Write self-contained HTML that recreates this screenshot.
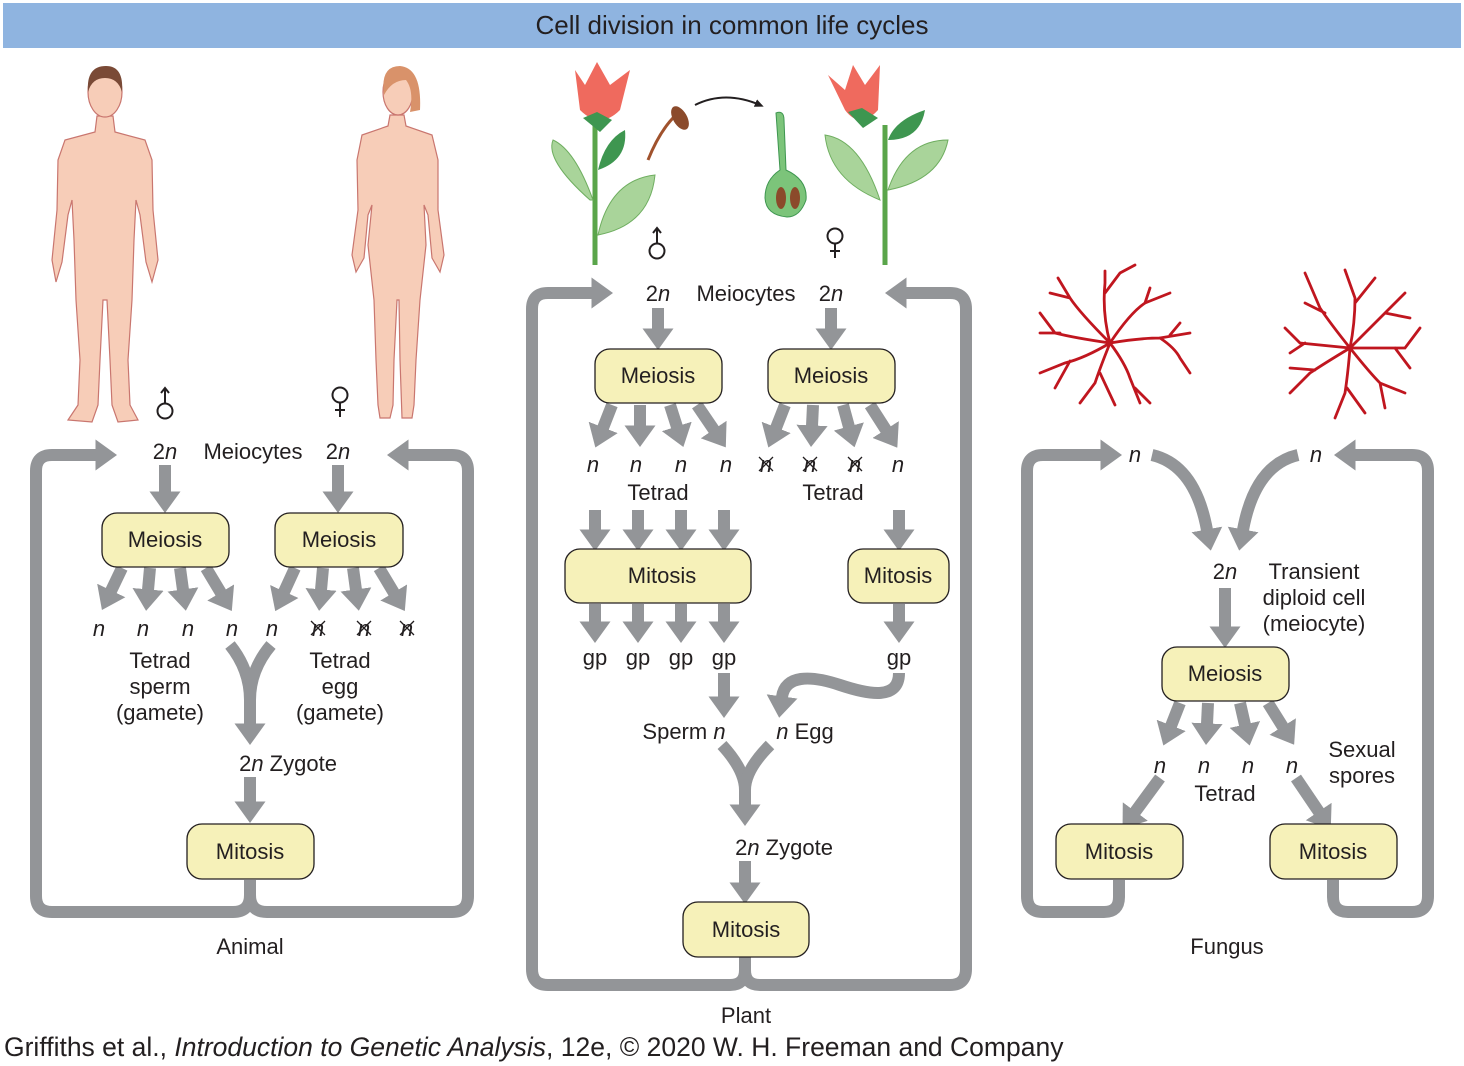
<!DOCTYPE html>
<html><head><meta charset="utf-8"><style>
body{margin:0;background:#fff}
svg{display:block}
text{font-family:"Liberation Sans",sans-serif;fill:#231f20}
</style></head><body>
<svg width="1464" height="1066" viewBox="0 0 1464 1066" xmlns="http://www.w3.org/2000/svg">
<defs>
<marker id="a" viewBox="0 -1.3 1.8 2.6" refX="0.05" refY="0" markerWidth="1.8" markerHeight="2.6" orient="auto" markerUnits="strokeWidth"><path d="M0,-1.3 L1.8,0 L0,1.3 z" fill="#939598"/></marker>
<marker id="b" viewBox="0 -5 10 10" refX="5" refY="0" markerWidth="10" markerHeight="10" orient="auto" markerUnits="userSpaceOnUse"><path d="M0,-4 L9,0 L0,4 z" fill="#231f20"/></marker>
<g id="male" fill="none" stroke="#231f20" stroke-width="2"><circle cx="0" cy="6" r="7.5"/><path d="M0,-1.5 L0,-17 M-4,-12 L0,-17 L4,-12"/></g>
<g id="female" fill="none" stroke="#231f20" stroke-width="2"><circle cx="0" cy="-6" r="7.5"/><path d="M0,1.5 L0,16 M-5,9 L5,9"/></g>
</defs>
<rect x="3" y="3" width="1458" height="45" fill="#8fb4e0"/>
<text x="732" y="34" font-size="26" text-anchor="middle">Cell division in common life cycles</text>

<!-- humans -->
<g fill="#f7cdb8" stroke="#c9766f" stroke-width="1.2">
<path d="M97,116 L113,116 L115,132 L145,140 L152,160 L153,210 L158,260 L152,282 L146,262 L140,215 L136,200 L134,240 L132,300 L128,360 L130,405 L138,420 L118,422 L112,405 L110,360 L107,300 L103,300 L100,360 L98,405 L92,422 L68,420 L78,405 L80,360 L76,300 L74,240 L72,200 L68,215 L62,262 L56,282 L52,260 L57,210 L58,160 L65,140 L95,132 Z"/>
<ellipse cx="105" cy="92" rx="17" ry="25"/>
<path d="M390,115 L404,115 L406,126 L432,135 L438,160 L438,210 L444,255 L440,272 L432,258 L428,215 L424,205 L426,245 L420,300 L416,360 L414,405 L412,418 L402,418 L400,360 L399,300 L397,300 L394,360 L393,405 L390,418 L380,418 L378,405 L376,360 L374,300 L368,245 L372,205 L368,215 L364,258 L356,272 L352,255 L358,210 L357,160 L362,135 L388,126 Z"/>
<ellipse cx="398" cy="92" rx="15" ry="23"/>
</g>
<path d="M88,92 Q86,66 106,66 Q124,66 122,92 Q118,78 105,78 Q92,78 88,92Z" fill="#7a4a36"/>
<path d="M384,95 Q380,66 400,66 Q422,68 420,110 L410,112 Q414,90 406,80 Q392,80 384,95Z" fill="#d9926a"/>
<use href="#male" x="165" y="405"/>
<use href="#female" x="340" y="401"/>

<!-- plants -->
<g>
<path d="M595,125 L595,265" stroke="#5aa54a" stroke-width="5" fill="none"/>
<path d="M885,125 L885,265" stroke="#5aa54a" stroke-width="5" fill="none"/>
<path d="M590,200 Q545,160 553,140 Q575,150 593,200Z" fill="#a9d49a" stroke="#6fae60"/>
<path d="M598,235 Q610,180 655,175 Q650,225 598,235Z" fill="#a9d49a" stroke="#6fae60"/>
<path d="M598,170 Q605,140 625,130 Q628,160 598,170Z" fill="#3e9650"/>
<path d="M880,200 Q830,180 825,135 Q860,140 880,200Z" fill="#a9d49a" stroke="#6fae60"/>
<path d="M888,190 Q905,140 948,140 Q940,180 888,190Z" fill="#a9d49a" stroke="#6fae60"/>
<path d="M888,140 Q895,120 925,110 Q920,140 888,140Z" fill="#3e9650"/>
<path d="M575,70 L585,85 L597,62 L610,85 L630,70 L620,110 Q600,130 580,110Z" fill="#ef6a5e"/>
<path d="M828,75 L845,90 L853,65 L865,85 L880,65 L878,110 Q860,130 845,110Z" fill="#ef6a5e"/>
<path d="M583,118 L597,112 L612,120 L600,132Z" fill="#3e9650"/>
<path d="M848,112 L862,108 L878,118 L863,128Z" fill="#3e9650"/>
<path d="M648,160 Q660,130 676,115" stroke="#a0522d" stroke-width="3" fill="none"/>
<ellipse cx="680" cy="118" rx="7" ry="13" transform="rotate(-30 680 118)" fill="#8b4a2b"/>
<path d="M695,105 Q725,90 760,105" stroke="#231f20" stroke-width="2" fill="none" marker-end="url(#b)"/>
<path d="M776,113 Q784,110 784,120 L786,170 Q808,180 806,200 Q800,217 787,217 Q766,215 765,198 Q765,180 780,170 Z" fill="#7cc47a" stroke="#3e9650"/>
<ellipse cx="781" cy="198" rx="5" ry="11" fill="#8b4a2b"/>
<ellipse cx="795" cy="198" rx="5" ry="11" fill="#8b4a2b"/>
</g>
<use href="#male" x="657" y="245"/>
<use href="#female" x="835" y="242"/>

<!-- fungi -->
<g stroke="#c0161f" stroke-width="2.8" fill="none" stroke-linecap="round">
<g transform="translate(1110,343)">
<path d="M0,0 Q-30,-30 -40,-45 L-52,-65 M-40,-45 L-60,-50 M0,0 Q-8,-30 -5,-60 L-5,-72 M-5,-50 L10,-70 L25,-78 M0,0 Q20,-30 35,-40 L60,-50 M35,-40 L40,-55 M0,0 Q30,-5 50,-5 L80,-10 M50,-5 Q65,5 70,15 L80,30 M60,-8 L70,-20 M0,0 Q15,20 20,35 L30,60 M25,45 L40,60 M0,0 Q-10,25 -15,40 L-30,60 M-10,30 L5,62 M0,0 Q-25,15 -45,20 L-70,30 M-40,18 L-55,45 M0,0 Q-35,-5 -55,-10 L-70,-30 M-50,-10 L-70,-10"/>
</g>
<g transform="translate(1350,348)">
<path d="M0,0 Q-20,-25 -30,-40 L-45,-75 M-25,-35 L-45,-45 M0,0 Q5,-25 5,-50 L-5,-78 M5,-45 L25,-70 M0,0 Q20,-20 35,-35 L55,-55 M35,-35 L60,-30 M0,0 L55,0 L70,-20 M45,0 L60,20 M0,0 Q20,25 30,35 L55,45 M30,35 L35,60 M0,0 Q-2,25 -5,45 L-15,70 M-3,40 L15,65 M0,0 Q-25,15 -40,25 L-60,45 M-35,22 L-60,20 M0,0 Q-30,-3 -50,-5 L-65,-20 M-45,-5 L-60,5"/>
</g>
</g>

<!-- gray connectors -->
<g stroke="#939598" stroke-width="12" fill="none">
<path d="M250,880 L250,895 Q250,912 233,912 L52,912 Q36,912 36,896 L36,471 Q36,455 52,455 L96,455" marker-end="url(#a)"/>
<path d="M250,880 L250,895 Q250,912 267,912 L452,912 Q468,912 468,896 L468,471 Q468,455 452,455 L408,455" marker-end="url(#a)"/>
<path d="M165,465 L165,492" marker-end="url(#a)"/>
<path d="M338,465 L338,492" marker-end="url(#a)"/>
<path d="M122,568 L111,591" marker-end="url(#a)"/>
<path d="M150,568 L148,590" marker-end="url(#a)"/>
<path d="M180,568 L183,590" marker-end="url(#a)"/>
<path d="M206,568 L221,593" marker-end="url(#a)"/>
<path d="M295,568 L284,592" marker-end="url(#a)"/>
<path d="M323,568 L321,590" marker-end="url(#a)"/>
<path d="M353,568 L356,590" marker-end="url(#a)"/>
<path d="M379,568 L394,593" marker-end="url(#a)"/>
<path d="M230,645 Q250,670 250,700 L250,724" marker-end="url(#a)"/>
<path d="M271,645 Q250,670 250,700"/>
<path d="M250,777 L250,802" marker-end="url(#a)"/>
<path d="M745,957 L745,970 Q745,985 730,985 L548,985 Q532,985 532,969 L532,309 Q532,293 548,293 L592,293" marker-end="url(#a)"/>
<path d="M745,957 L745,970 Q745,985 760,985 L950,985 Q966,985 966,969 L966,309 Q966,293 950,293 L906,293" marker-end="url(#a)"/>
<path d="M658,308 L658,329" marker-end="url(#a)"/>
<path d="M831,308 L831,329" marker-end="url(#a)"/>
<path d="M612,405 L603,428" marker-end="url(#a)"/>
<path d="M640,405 L640,426" marker-end="url(#a)"/>
<path d="M670,405 L677,427" marker-end="url(#a)"/>
<path d="M697,405 L714,430" marker-end="url(#a)"/>
<path d="M785,405 L776,428" marker-end="url(#a)"/>
<path d="M813,405 L812,426" marker-end="url(#a)"/>
<path d="M843,405 L849,427" marker-end="url(#a)"/>
<path d="M870,405 L886,430" marker-end="url(#a)"/>
<path d="M595,510 L595,530" marker-end="url(#a)"/>
<path d="M638,510 L638,530" marker-end="url(#a)"/>
<path d="M681,510 L681,530" marker-end="url(#a)"/>
<path d="M724,510 L724,530" marker-end="url(#a)"/>
<path d="M899,510 L899,530" marker-end="url(#a)"/>
<path d="M595,604 L595,622" marker-end="url(#a)"/>
<path d="M638,604 L638,622" marker-end="url(#a)"/>
<path d="M681,604 L681,622" marker-end="url(#a)"/>
<path d="M724,604 L724,622" marker-end="url(#a)"/>
<path d="M899,604 L899,622" marker-end="url(#a)"/>
<path d="M724,673 L724,697" marker-end="url(#a)"/>
<path d="M899,673 C899,700 870,695 840,685 C810,675 785,675 782,697" marker-end="url(#a)"/>
<path d="M722,745 Q745,770 745,790 L745,805" marker-end="url(#a)"/>
<path d="M770,745 Q745,770 745,790"/>
<path d="M745,861 L745,883" marker-end="url(#a)"/>
<path d="M1119,880 L1119,897 Q1119,912 1104,912 L1043,912 Q1027,912 1027,896 L1027,471 Q1027,455 1043,455 L1101,455" marker-end="url(#a)"/>
<path d="M1333,880 L1333,897 Q1333,912 1348,912 L1412,912 Q1428,912 1428,896 L1428,471 Q1428,455 1412,455 L1355,455" marker-end="url(#a)"/>
<path d="M1152,455 Q1195,465 1207,530" marker-end="url(#a)"/>
<path d="M1298,455 Q1255,465 1243,530" marker-end="url(#a)"/>
<path d="M1225,588 L1225,627" marker-end="url(#a)"/>
<path d="M1180,703 L1171,726" marker-end="url(#a)"/>
<path d="M1208,703 L1207,724" marker-end="url(#a)"/>
<path d="M1240,703 L1245,725" marker-end="url(#a)"/>
<path d="M1268,703 L1283,727" marker-end="url(#a)"/>
<path d="M1160,778 L1135,812" marker-end="url(#a)"/>
<path d="M1296,778 L1319,812" marker-end="url(#a)"/>
</g>

<g fill="#f6f1b9" stroke="#231f20" stroke-width="1.3">
<rect x="102" y="513" width="127" height="54" rx="15"/>
<rect x="275" y="513" width="128" height="54" rx="15"/>
<rect x="187" y="824" width="127" height="55" rx="15"/>
<rect x="595" y="349" width="127" height="54" rx="15"/>
<rect x="768" y="349" width="127" height="54" rx="15"/>
<rect x="565" y="549" width="186" height="54" rx="15"/>
<rect x="848" y="549" width="101" height="54" rx="15"/>
<rect x="683" y="902" width="126" height="55" rx="15"/>
<rect x="1162" y="647" width="127" height="54" rx="15"/>
<rect x="1056" y="824" width="127" height="55" rx="15"/>
<rect x="1270" y="824" width="127" height="55" rx="15"/>
</g>

<g font-size="22" text-anchor="middle">
<text x="165" y="547">Meiosis</text>
<text x="339" y="547">Meiosis</text>
<text x="250" y="859">Mitosis</text>
<text x="658" y="383">Meiosis</text>
<text x="831" y="383">Meiosis</text>
<text x="662" y="583">Mitosis</text>
<text x="898" y="583">Mitosis</text>
<text x="746" y="937">Mitosis</text>
<text x="1225" y="681">Meiosis</text>
<text x="1119" y="859">Mitosis</text>
<text x="1333" y="859">Mitosis</text>

<text x="165" y="459"><tspan>2</tspan><tspan font-style="italic">n</tspan></text>
<text x="253" y="459">Meiocytes</text>
<text x="338" y="459"><tspan>2</tspan><tspan font-style="italic">n</tspan></text>
<g font-style="italic">
<text x="99" y="636">n</text><text x="143" y="636">n</text><text x="188" y="636">n</text><text x="232" y="636">n</text><text x="272" y="636">n</text>
<text x="318" y="636">n</text><text x="364" y="636">n</text><text x="407" y="636">n</text>
<text x="593" y="472">n</text><text x="636" y="472">n</text><text x="681" y="472">n</text><text x="726" y="472">n</text>
<text x="766" y="472">n</text><text x="810" y="472">n</text><text x="855" y="472">n</text><text x="898" y="472">n</text>
<text x="1135" y="462">n</text><text x="1316" y="462">n</text>
<text x="1160" y="773">n</text><text x="1204" y="773">n</text><text x="1248" y="773">n</text><text x="1292" y="773">n</text>
</g>
<text x="160" y="668">Tetrad</text><text x="160" y="694">sperm</text><text x="160" y="720">(gamete)</text>
<text x="340" y="668">Tetrad</text><text x="340" y="694">egg</text><text x="340" y="720">(gamete)</text>
<text x="288" y="771"><tspan>2</tspan><tspan font-style="italic">n</tspan> Zygote</text>
<text x="250" y="954">Animal</text>

<text x="658" y="301"><tspan>2</tspan><tspan font-style="italic">n</tspan></text>
<text x="746" y="301">Meiocytes</text>
<text x="831" y="301"><tspan>2</tspan><tspan font-style="italic">n</tspan></text>
<text x="658" y="500">Tetrad</text>
<text x="833" y="500">Tetrad</text>
<text x="595" y="665">gp</text><text x="638" y="665">gp</text><text x="681" y="665">gp</text><text x="724" y="665">gp</text><text x="899" y="665">gp</text>
<text x="684" y="739">Sperm <tspan font-style="italic">n</tspan></text>
<text x="805" y="739"><tspan font-style="italic">n</tspan> Egg</text>
<text x="784" y="855"><tspan>2</tspan><tspan font-style="italic">n</tspan> Zygote</text>
<text x="746" y="1023">Plant</text>

<text x="1225" y="579"><tspan>2</tspan><tspan font-style="italic">n</tspan></text>
<text x="1314" y="579">Transient</text><text x="1314" y="605">diploid cell</text><text x="1314" y="631">(meiocyte)</text>
<text x="1225" y="801">Tetrad</text>
<text x="1362" y="757">Sexual</text><text x="1362" y="783">spores</text>
<text x="1227" y="954">Fungus</text>
</g>
<g stroke="#231f20" stroke-width="1.3">
<path d="M311,621 L325,635 M325,621 L311,635 M357,621 L371,635 M371,621 L357,635 M400,621 L414,635 M414,621 L400,635"/>
<path d="M759,457 L773,471 M773,457 L759,471 M803,457 L817,471 M817,457 L803,471 M848,457 L862,471 M862,457 L848,471"/>
</g>
<text x="4" y="1056" font-size="26.5">Griffiths et al., <tspan font-style="italic">Introduction to Genetic Analysis</tspan>, 12e, © 2020 W. H. Freeman and Company</text>
</svg>
</body></html>
